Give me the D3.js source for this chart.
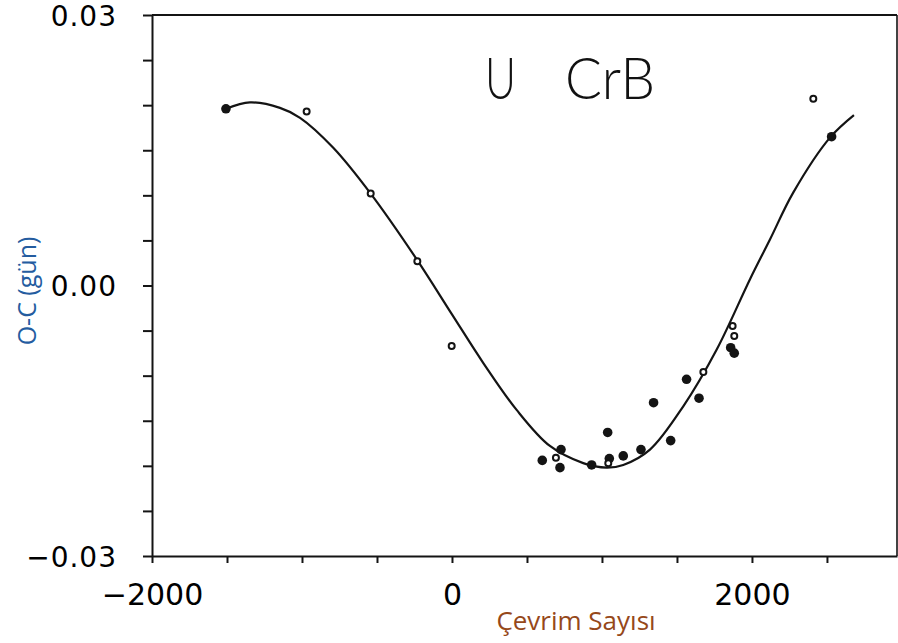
<!DOCTYPE html>
<html>
<head>
<meta charset="utf-8">
<script src="https://cdn.jsdelivr.net/npm/d3@7"></script>
<style>
  html, body { margin: 0; padding: 0; background: #fff; }
  svg { display: block; }
</style>
</head>
<body>
<svg id="chart" width="898" height="643"></svg>
<script>
// Cycle number (E) and O-C residuals in days for U CrB minima
const filledCycles = [-1507, 602, 720, 727, 931, 1038, 1049, 1142, 1260, 1344, 1458, 1564, 1647, 1858, 1882, 2531];
const filledOC     = [0.0196, -0.0194, -0.0202, -0.0182, -0.0199, -0.0163, -0.0192, -0.0189, -0.0182, -0.0130, -0.0172, -0.0104, -0.0125, -0.0069, -0.0075, 0.0165];

const openCycles = [-969, -542, -231, -2, 693, 1042, 1676, 1871, 1882, 2409];
const openOC     = [0.0193, 0.0102, 0.0027, -0.0067, -0.0191, -0.0197, -0.0096, -0.0045, -0.0056, 0.0207];

// Fitted O-C curve, sampled along the cycle axis
const fitCycles = [-1507, -1347, -1147, -1013, -793, -547, -235, 0, 209, 431, 653, 875, 1031, 1142, 1320, 1542, 1765, 1987, 2120, 2275, 2520, 2680];
const fitOC     = [0.0196, 0.0203, 0.0197, 0.0186, 0.0153, 0.0103, 0.0029, -0.0032, -0.0086, -0.0138, -0.0178, -0.0197, -0.0202, -0.0199, -0.0182, -0.0134, -0.0071, 0.0007, 0.0051, 0.0103, 0.0164, 0.0189];

const xTicks = [-2000, -1500, -1000, -500, 0, 500, 1000, 1500, 2000, 2500];
const xTickLabels = [-2000, 0, 2000];
const yTicks = [-0.03, -0.025, -0.02, -0.015, -0.01, -0.005, 0, 0.005, 0.01, 0.015, 0.02, 0.025, 0.03];
const yTickLabels = [-0.03, 0, 0.03];

const titleStar = "U";
const titleConst = "CrB";
const xTitle = "Çevrim Sayısı";
const yTitle = "O-C (gün)";

const svg = d3.select("#chart");
const plotLeft = 152, plotRight = 897, plotTop = 15, plotBottom = 556;

const x = d3.scaleLinear().domain([-2000, 2967]).range([plotLeft, plotRight]);
const y = d3.scaleLinear().domain([-0.03, 0.03]).range([plotBottom, plotTop]);

const ink = "#141414";
const minus = s => s.replace("-", "\u2212");

// frame: top and right edges
svg.append("line").attr("x1", plotLeft).attr("x2", plotRight).attr("y1", plotTop).attr("y2", plotTop)
  .attr("stroke", ink).attr("stroke-width", 2);
svg.append("line").attr("x1", plotRight).attr("x2", plotRight).attr("y1", plotTop).attr("y2", plotBottom)
  .attr("stroke", ink).attr("stroke-width", 1.6);

// left axis
const yAxis = d3.axisLeft(y)
  .tickValues(yTicks)
  .tickSize(9)
  .tickSizeOuter(0)
  .tickPadding(26)
  .tickFormat(d => yTickLabels.some(v => Math.abs(v - d) < 1e-9) ? minus(d3.format(".2f")(d)) : "");
const gy = svg.append("g").attr("transform", `translate(${plotLeft},0)`).call(yAxis);
gy.select(".domain").attr("stroke", ink).attr("stroke-width", 2);
gy.selectAll(".tick line").attr("stroke", ink).attr("stroke-width", 2);
gy.selectAll(".tick text")
  .attr("font-family", "DejaVu Sans, sans-serif").attr("font-size", 28)
  .attr("letter-spacing", 1).attr("fill", "#000").attr("dy", "0.36em");

// bottom axis
const xAxis = d3.axisBottom(x)
  .tickValues(xTicks)
  .tickSize(7)
  .tickSizeOuter(0)
  .tickPadding(21)
  .tickFormat(d => xTickLabels.includes(d) ? minus(String(d)) : "");
const gx = svg.append("g").attr("transform", `translate(0,${plotBottom})`).call(xAxis);
gx.select(".domain").attr("stroke", ink).attr("stroke-width", 2);
gx.selectAll(".tick line").attr("stroke", ink).attr("stroke-width", 2);
gx.selectAll(".tick text")
  .attr("font-family", "DejaVu Sans, sans-serif").attr("font-size", 30)
  .attr("fill", "#000");

// fitted curve
const fit = fitCycles.map((c, i) => [c, fitOC[i]]);
svg.append("path")
  .datum(fit)
  .attr("fill", "none")
  .attr("stroke", ink)
  .attr("stroke-width", 2.2)
  .attr("d", d3.line().x(d => x(d[0])).y(d => y(d[1])).curve(d3.curveCatmullRom.alpha(0.5)));

// observed minima: filled dots
svg.append("g").selectAll("circle")
  .data(filledCycles.map((c, i) => [c, filledOC[i]]))
  .join("circle")
  .attr("cx", d => x(d[0])).attr("cy", d => y(d[1]))
  .attr("r", 4.8).attr("fill", ink);

// observed minima: open circles
svg.append("g").selectAll("circle")
  .data(openCycles.map((c, i) => [c, openOC[i]]))
  .join("circle")
  .attr("cx", d => x(d[0])).attr("cy", d => y(d[1]))
  .attr("r", 3).attr("fill", "#fff").attr("stroke", ink).attr("stroke-width", 2);

// star name
const nameFont = "Lato, Liberation Sans, Arial, sans-serif";
svg.append("text").attr("x", 485).attr("y", 99)
  .attr("font-family", nameFont).attr("font-weight", 300).attr("font-size", 57)
  .attr("textLength", 31).attr("lengthAdjust", "spacingAndGlyphs")
  .attr("fill", "#111").text(titleStar);
svg.append("text").attr("x", 565).attr("y", 99)
  .attr("font-family", nameFont).attr("font-weight", 300).attr("font-size", 57)
  .attr("textLength", 90).attr("lengthAdjust", "spacingAndGlyphs")
  .attr("fill", "#111").text(titleConst);

// axis titles
svg.append("text").attr("x", 576).attr("y", 630)
  .attr("text-anchor", "middle")
  .attr("font-family", "Open Sans, sans-serif").attr("font-size", 26)
  .attr("fill", "#96481a").text(xTitle);
svg.append("text")
  .attr("transform", "translate(36,291) rotate(-90)")
  .attr("text-anchor", "middle")
  .attr("font-family", "Open Sans, sans-serif").attr("font-size", 25)
  .attr("fill", "#245c9f").text(yTitle);
</script>
</body>
</html>
